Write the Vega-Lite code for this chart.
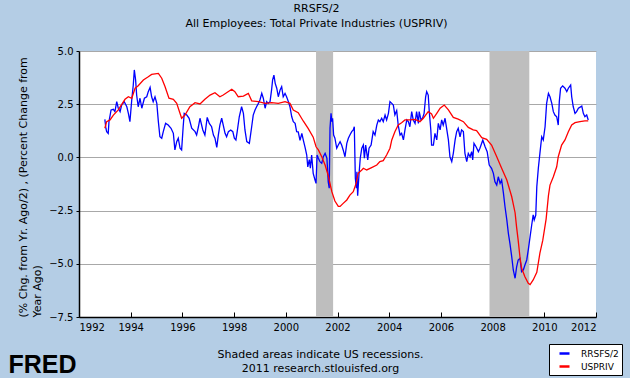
{
  "$schema": "https://vega.github.io/schema/vega-lite/v6.json",
  "autosize": "none",
  "width": 517,
  "height": 266,
  "padding": {"left": 79, "top": 51, "right": 34, "bottom": 61},
  "background": "#B4CDE5",
  "config": {
    "font": "DejaVu Sans",
    "view": {"fill": "white", "stroke": null}
  },
  "title": {
    "text": "RRSFS/2",
    "subtitle": "All Employees: Total Private Industries (USPRIV)",
    "anchor": "middle",
    "dx": -21,
    "offset": 17,
    "fontSize": 11,
    "fontWeight": "normal",
    "subtitleFontSize": 11,
    "subtitlePadding": 4,
    "color": "black",
    "subtitleColor": "black",
    "font": "DejaVu Sans",
    "subtitleFont": "DejaVu Sans"
  },
  "datasets": {
    "rec": [
      {"start": 2001.17, "end": 2001.83},
      {"start": 2007.88, "end": 2009.42}
    ],
    "series": [
      {"t": 1993.0, "v": 1.79, "s": "RRSFS/2"},
      {"t": 1993.04, "v": 1.37, "s": "RRSFS/2"},
      {"t": 1993.07, "v": 1.21, "s": "RRSFS/2"},
      {"t": 1993.13, "v": 1.13, "s": "RRSFS/2"},
      {"t": 1993.16, "v": 1.68, "s": "RRSFS/2"},
      {"t": 1993.24, "v": 2.23, "s": "RRSFS/2"},
      {"t": 1993.33, "v": 2.26, "s": "RRSFS/2"},
      {"t": 1993.39, "v": 2.15, "s": "RRSFS/2"},
      {"t": 1993.46, "v": 2.62, "s": "RRSFS/2"},
      {"t": 1993.52, "v": 2.31, "s": "RRSFS/2"},
      {"t": 1993.59, "v": 2.15, "s": "RRSFS/2"},
      {"t": 1993.65, "v": 2.46, "s": "RRSFS/2"},
      {"t": 1993.75, "v": 2.62, "s": "RRSFS/2"},
      {"t": 1993.85, "v": 2.38, "s": "RRSFS/2"},
      {"t": 1993.91, "v": 2.07, "s": "RRSFS/2"},
      {"t": 1993.97, "v": 1.68, "s": "RRSFS/2"},
      {"t": 1994.04, "v": 2.7, "s": "RRSFS/2"},
      {"t": 1994.1, "v": 3.4, "s": "RRSFS/2"},
      {"t": 1994.14, "v": 4.11, "s": "RRSFS/2"},
      {"t": 1994.19, "v": 3.64, "s": "RRSFS/2"},
      {"t": 1994.23, "v": 2.93, "s": "RRSFS/2"},
      {"t": 1994.29, "v": 2.38, "s": "RRSFS/2"},
      {"t": 1994.36, "v": 2.78, "s": "RRSFS/2"},
      {"t": 1994.43, "v": 2.31, "s": "RRSFS/2"},
      {"t": 1994.53, "v": 2.78, "s": "RRSFS/2"},
      {"t": 1994.62, "v": 2.85, "s": "RRSFS/2"},
      {"t": 1994.68, "v": 3.09, "s": "RRSFS/2"},
      {"t": 1994.75, "v": 3.29, "s": "RRSFS/2"},
      {"t": 1994.81, "v": 2.85, "s": "RRSFS/2"},
      {"t": 1994.87, "v": 2.62, "s": "RRSFS/2"},
      {"t": 1994.94, "v": 2.85, "s": "RRSFS/2"},
      {"t": 1995.01, "v": 2.54, "s": "RRSFS/2"},
      {"t": 1995.07, "v": 1.68, "s": "RRSFS/2"},
      {"t": 1995.13, "v": 0.97, "s": "RRSFS/2"},
      {"t": 1995.2, "v": 0.9, "s": "RRSFS/2"},
      {"t": 1995.26, "v": 1.21, "s": "RRSFS/2"},
      {"t": 1995.35, "v": 1.6, "s": "RRSFS/2"},
      {"t": 1995.45, "v": 1.52, "s": "RRSFS/2"},
      {"t": 1995.56, "v": 1.37, "s": "RRSFS/2"},
      {"t": 1995.65, "v": 1.13, "s": "RRSFS/2"},
      {"t": 1995.71, "v": 0.35, "s": "RRSFS/2"},
      {"t": 1995.78, "v": 0.74, "s": "RRSFS/2"},
      {"t": 1995.84, "v": 0.9, "s": "RRSFS/2"},
      {"t": 1995.91, "v": 0.43, "s": "RRSFS/2"},
      {"t": 1995.97, "v": 0.35, "s": "RRSFS/2"},
      {"t": 1996.03, "v": 1.44, "s": "RRSFS/2"},
      {"t": 1996.07, "v": 2.07, "s": "RRSFS/2"},
      {"t": 1996.17, "v": 1.99, "s": "RRSFS/2"},
      {"t": 1996.26, "v": 1.84, "s": "RRSFS/2"},
      {"t": 1996.36, "v": 1.37, "s": "RRSFS/2"},
      {"t": 1996.49, "v": 1.21, "s": "RRSFS/2"},
      {"t": 1996.55, "v": 1.05, "s": "RRSFS/2"},
      {"t": 1996.62, "v": 1.44, "s": "RRSFS/2"},
      {"t": 1996.68, "v": 1.84, "s": "RRSFS/2"},
      {"t": 1996.79, "v": 1.29, "s": "RRSFS/2"},
      {"t": 1996.87, "v": 1.05, "s": "RRSFS/2"},
      {"t": 1996.96, "v": 1.88, "s": "RRSFS/2"},
      {"t": 1997.04, "v": 1.6, "s": "RRSFS/2"},
      {"t": 1997.13, "v": 1.44, "s": "RRSFS/2"},
      {"t": 1997.2, "v": 1.05, "s": "RRSFS/2"},
      {"t": 1997.26, "v": 0.9, "s": "RRSFS/2"},
      {"t": 1997.33, "v": 0.47, "s": "RRSFS/2"},
      {"t": 1997.39, "v": 1.05, "s": "RRSFS/2"},
      {"t": 1997.45, "v": 1.52, "s": "RRSFS/2"},
      {"t": 1997.52, "v": 1.84, "s": "RRSFS/2"},
      {"t": 1997.58, "v": 1.52, "s": "RRSFS/2"},
      {"t": 1997.65, "v": 1.13, "s": "RRSFS/2"},
      {"t": 1997.71, "v": 0.97, "s": "RRSFS/2"},
      {"t": 1997.78, "v": 1.21, "s": "RRSFS/2"},
      {"t": 1997.87, "v": 1.29, "s": "RRSFS/2"},
      {"t": 1997.95, "v": 1.21, "s": "RRSFS/2"},
      {"t": 1998.01, "v": 0.9, "s": "RRSFS/2"},
      {"t": 1998.07, "v": 0.82, "s": "RRSFS/2"},
      {"t": 1998.12, "v": 1.21, "s": "RRSFS/2"},
      {"t": 1998.2, "v": 1.91, "s": "RRSFS/2"},
      {"t": 1998.29, "v": 2.38, "s": "RRSFS/2"},
      {"t": 1998.36, "v": 2.07, "s": "RRSFS/2"},
      {"t": 1998.42, "v": 1.29, "s": "RRSFS/2"},
      {"t": 1998.49, "v": 0.74, "s": "RRSFS/2"},
      {"t": 1998.59, "v": 0.66, "s": "RRSFS/2"},
      {"t": 1998.68, "v": 1.44, "s": "RRSFS/2"},
      {"t": 1998.74, "v": 1.99, "s": "RRSFS/2"},
      {"t": 1998.81, "v": 2.23, "s": "RRSFS/2"},
      {"t": 1998.87, "v": 2.38, "s": "RRSFS/2"},
      {"t": 1998.94, "v": 2.54, "s": "RRSFS/2"},
      {"t": 1999.0, "v": 2.7, "s": "RRSFS/2"},
      {"t": 1999.07, "v": 3.01, "s": "RRSFS/2"},
      {"t": 1999.13, "v": 2.78, "s": "RRSFS/2"},
      {"t": 1999.2, "v": 2.31, "s": "RRSFS/2"},
      {"t": 1999.26, "v": 2.62, "s": "RRSFS/2"},
      {"t": 1999.32, "v": 2.54, "s": "RRSFS/2"},
      {"t": 1999.39, "v": 2.62, "s": "RRSFS/2"},
      {"t": 1999.45, "v": 3.17, "s": "RRSFS/2"},
      {"t": 1999.49, "v": 3.64, "s": "RRSFS/2"},
      {"t": 1999.54, "v": 3.87, "s": "RRSFS/2"},
      {"t": 1999.59, "v": 3.48, "s": "RRSFS/2"},
      {"t": 1999.65, "v": 3.25, "s": "RRSFS/2"},
      {"t": 1999.71, "v": 2.85, "s": "RRSFS/2"},
      {"t": 1999.78, "v": 3.17, "s": "RRSFS/2"},
      {"t": 1999.84, "v": 3.32, "s": "RRSFS/2"},
      {"t": 1999.9, "v": 2.85, "s": "RRSFS/2"},
      {"t": 1999.97, "v": 3.01, "s": "RRSFS/2"},
      {"t": 2000.03, "v": 2.85, "s": "RRSFS/2"},
      {"t": 2000.1, "v": 2.62, "s": "RRSFS/2"},
      {"t": 2000.16, "v": 2.38, "s": "RRSFS/2"},
      {"t": 2000.23, "v": 1.91, "s": "RRSFS/2"},
      {"t": 2000.29, "v": 1.68, "s": "RRSFS/2"},
      {"t": 2000.36, "v": 1.6, "s": "RRSFS/2"},
      {"t": 2000.42, "v": 1.21, "s": "RRSFS/2"},
      {"t": 2000.48, "v": 1.2, "s": "RRSFS/2"},
      {"t": 2000.55, "v": 0.8, "s": "RRSFS/2"},
      {"t": 2000.62, "v": 1.13, "s": "RRSFS/2"},
      {"t": 2000.68, "v": 0.8, "s": "RRSFS/2"},
      {"t": 2000.75, "v": 0.45, "s": "RRSFS/2"},
      {"t": 2000.81, "v": 0.11, "s": "RRSFS/2"},
      {"t": 2000.85, "v": -0.45, "s": "RRSFS/2"},
      {"t": 2000.91, "v": -0.1, "s": "RRSFS/2"},
      {"t": 2000.95, "v": -0.51, "s": "RRSFS/2"},
      {"t": 2001.0, "v": 0.11, "s": "RRSFS/2"},
      {"t": 2001.06, "v": -0.75, "s": "RRSFS/2"},
      {"t": 2001.13, "v": -1.06, "s": "RRSFS/2"},
      {"t": 2001.17, "v": -1.22, "s": "RRSFS/2"},
      {"t": 2001.21, "v": 0.11, "s": "RRSFS/2"},
      {"t": 2001.26, "v": -0.04, "s": "RRSFS/2"},
      {"t": 2001.32, "v": -0.2, "s": "RRSFS/2"},
      {"t": 2001.39, "v": -0.28, "s": "RRSFS/2"},
      {"t": 2001.45, "v": 0.03, "s": "RRSFS/2"},
      {"t": 2001.52, "v": 0.19, "s": "RRSFS/2"},
      {"t": 2001.59, "v": -0.04, "s": "RRSFS/2"},
      {"t": 2001.62, "v": -0.67, "s": "RRSFS/2"},
      {"t": 2001.64, "v": -1.14, "s": "RRSFS/2"},
      {"t": 2001.68, "v": -1.45, "s": "RRSFS/2"},
      {"t": 2001.71, "v": 1.37, "s": "RRSFS/2"},
      {"t": 2001.75, "v": 2.07, "s": "RRSFS/2"},
      {"t": 2001.78, "v": 1.68, "s": "RRSFS/2"},
      {"t": 2001.81, "v": 1.84, "s": "RRSFS/2"},
      {"t": 2001.85, "v": 1.05, "s": "RRSFS/2"},
      {"t": 2001.9, "v": 0.9, "s": "RRSFS/2"},
      {"t": 2001.97, "v": 0.43, "s": "RRSFS/2"},
      {"t": 2002.03, "v": 0.58, "s": "RRSFS/2"},
      {"t": 2002.1, "v": 0.74, "s": "RRSFS/2"},
      {"t": 2002.16, "v": 0.58, "s": "RRSFS/2"},
      {"t": 2002.22, "v": 0.35, "s": "RRSFS/2"},
      {"t": 2002.29, "v": 0.03, "s": "RRSFS/2"},
      {"t": 2002.36, "v": 0.66, "s": "RRSFS/2"},
      {"t": 2002.42, "v": 0.9, "s": "RRSFS/2"},
      {"t": 2002.48, "v": 1.05, "s": "RRSFS/2"},
      {"t": 2002.55, "v": 1.21, "s": "RRSFS/2"},
      {"t": 2002.61, "v": 1.29, "s": "RRSFS/2"},
      {"t": 2002.65, "v": 1.44, "s": "RRSFS/2"},
      {"t": 2002.69, "v": -0.98, "s": "RRSFS/2"},
      {"t": 2002.73, "v": -1.45, "s": "RRSFS/2"},
      {"t": 2002.75, "v": -0.67, "s": "RRSFS/2"},
      {"t": 2002.78, "v": -1.8, "s": "RRSFS/2"},
      {"t": 2002.83, "v": -0.83, "s": "RRSFS/2"},
      {"t": 2002.88, "v": -0.04, "s": "RRSFS/2"},
      {"t": 2002.94, "v": 0.43, "s": "RRSFS/2"},
      {"t": 2003.0, "v": 0.58, "s": "RRSFS/2"},
      {"t": 2003.04, "v": -0.04, "s": "RRSFS/2"},
      {"t": 2003.09, "v": 0.58, "s": "RRSFS/2"},
      {"t": 2003.17, "v": -0.12, "s": "RRSFS/2"},
      {"t": 2003.22, "v": 0.43, "s": "RRSFS/2"},
      {"t": 2003.3, "v": 0.58, "s": "RRSFS/2"},
      {"t": 2003.38, "v": 1.21, "s": "RRSFS/2"},
      {"t": 2003.45, "v": 1.05, "s": "RRSFS/2"},
      {"t": 2003.52, "v": 1.52, "s": "RRSFS/2"},
      {"t": 2003.58, "v": 1.76, "s": "RRSFS/2"},
      {"t": 2003.64, "v": 1.68, "s": "RRSFS/2"},
      {"t": 2003.71, "v": 1.84, "s": "RRSFS/2"},
      {"t": 2003.77, "v": 1.68, "s": "RRSFS/2"},
      {"t": 2003.84, "v": 1.99, "s": "RRSFS/2"},
      {"t": 2003.9, "v": 1.76, "s": "RRSFS/2"},
      {"t": 2003.97, "v": 2.07, "s": "RRSFS/2"},
      {"t": 2004.03, "v": 2.62, "s": "RRSFS/2"},
      {"t": 2004.1, "v": 2.54, "s": "RRSFS/2"},
      {"t": 2004.16, "v": 2.46, "s": "RRSFS/2"},
      {"t": 2004.22, "v": 2.0, "s": "RRSFS/2"},
      {"t": 2004.29, "v": 2.2, "s": "RRSFS/2"},
      {"t": 2004.35, "v": 1.5, "s": "RRSFS/2"},
      {"t": 2004.42, "v": 1.05, "s": "RRSFS/2"},
      {"t": 2004.48, "v": 1.13, "s": "RRSFS/2"},
      {"t": 2004.55, "v": 0.82, "s": "RRSFS/2"},
      {"t": 2004.61, "v": 1.29, "s": "RRSFS/2"},
      {"t": 2004.68, "v": 1.76, "s": "RRSFS/2"},
      {"t": 2004.74, "v": 1.68, "s": "RRSFS/2"},
      {"t": 2004.8, "v": 1.44, "s": "RRSFS/2"},
      {"t": 2004.87, "v": 2.15, "s": "RRSFS/2"},
      {"t": 2004.93, "v": 1.76, "s": "RRSFS/2"},
      {"t": 2005.0, "v": 1.6, "s": "RRSFS/2"},
      {"t": 2005.06, "v": 2.15, "s": "RRSFS/2"},
      {"t": 2005.13, "v": 1.6, "s": "RRSFS/2"},
      {"t": 2005.16, "v": 2.15, "s": "RRSFS/2"},
      {"t": 2005.23, "v": 1.76, "s": "RRSFS/2"},
      {"t": 2005.29, "v": 1.84, "s": "RRSFS/2"},
      {"t": 2005.35, "v": 2.07, "s": "RRSFS/2"},
      {"t": 2005.41, "v": 2.85, "s": "RRSFS/2"},
      {"t": 2005.45, "v": 3.09, "s": "RRSFS/2"},
      {"t": 2005.51, "v": 2.93, "s": "RRSFS/2"},
      {"t": 2005.55, "v": 2.15, "s": "RRSFS/2"},
      {"t": 2005.61, "v": 1.29, "s": "RRSFS/2"},
      {"t": 2005.64, "v": 0.58, "s": "RRSFS/2"},
      {"t": 2005.71, "v": 0.58, "s": "RRSFS/2"},
      {"t": 2005.77, "v": 1.13, "s": "RRSFS/2"},
      {"t": 2005.84, "v": 0.82, "s": "RRSFS/2"},
      {"t": 2005.9, "v": 1.6, "s": "RRSFS/2"},
      {"t": 2005.97, "v": 1.29, "s": "RRSFS/2"},
      {"t": 2006.03, "v": 1.76, "s": "RRSFS/2"},
      {"t": 2006.09, "v": 1.52, "s": "RRSFS/2"},
      {"t": 2006.16, "v": 1.84, "s": "RRSFS/2"},
      {"t": 2006.23, "v": 1.29, "s": "RRSFS/2"},
      {"t": 2006.29, "v": 0.82, "s": "RRSFS/2"},
      {"t": 2006.35, "v": 0.03, "s": "RRSFS/2"},
      {"t": 2006.42, "v": -0.2, "s": "RRSFS/2"},
      {"t": 2006.48, "v": 0.19, "s": "RRSFS/2"},
      {"t": 2006.55, "v": 0.82, "s": "RRSFS/2"},
      {"t": 2006.61, "v": 1.21, "s": "RRSFS/2"},
      {"t": 2006.67, "v": 1.37, "s": "RRSFS/2"},
      {"t": 2006.74, "v": 0.97, "s": "RRSFS/2"},
      {"t": 2006.8, "v": 1.29, "s": "RRSFS/2"},
      {"t": 2006.87, "v": 1.21, "s": "RRSFS/2"},
      {"t": 2006.93, "v": 0.19, "s": "RRSFS/2"},
      {"t": 2007.0, "v": -0.2, "s": "RRSFS/2"},
      {"t": 2007.06, "v": 0.19, "s": "RRSFS/2"},
      {"t": 2007.13, "v": 0.03, "s": "RRSFS/2"},
      {"t": 2007.19, "v": 0.27, "s": "RRSFS/2"},
      {"t": 2007.23, "v": -0.12, "s": "RRSFS/2"},
      {"t": 2007.28, "v": 0.66, "s": "RRSFS/2"},
      {"t": 2007.36, "v": 0.5, "s": "RRSFS/2"},
      {"t": 2007.45, "v": 0.27, "s": "RRSFS/2"},
      {"t": 2007.51, "v": 0.43, "s": "RRSFS/2"},
      {"t": 2007.62, "v": 0.82, "s": "RRSFS/2"},
      {"t": 2007.71, "v": 0.5, "s": "RRSFS/2"},
      {"t": 2007.79, "v": 0.27, "s": "RRSFS/2"},
      {"t": 2007.87, "v": -0.36, "s": "RRSFS/2"},
      {"t": 2007.96, "v": -0.51, "s": "RRSFS/2"},
      {"t": 2008.03, "v": -0.75, "s": "RRSFS/2"},
      {"t": 2008.09, "v": -1.14, "s": "RRSFS/2"},
      {"t": 2008.16, "v": -1.3, "s": "RRSFS/2"},
      {"t": 2008.22, "v": -0.91, "s": "RRSFS/2"},
      {"t": 2008.29, "v": -1.22, "s": "RRSFS/2"},
      {"t": 2008.35, "v": -1.06, "s": "RRSFS/2"},
      {"t": 2008.42, "v": -1.69, "s": "RRSFS/2"},
      {"t": 2008.48, "v": -2.32, "s": "RRSFS/2"},
      {"t": 2008.55, "v": -2.94, "s": "RRSFS/2"},
      {"t": 2008.61, "v": -3.57, "s": "RRSFS/2"},
      {"t": 2008.67, "v": -4.04, "s": "RRSFS/2"},
      {"t": 2008.74, "v": -4.67, "s": "RRSFS/2"},
      {"t": 2008.8, "v": -5.29, "s": "RRSFS/2"},
      {"t": 2008.87, "v": -5.68, "s": "RRSFS/2"},
      {"t": 2008.93, "v": -5.14, "s": "RRSFS/2"},
      {"t": 2008.99, "v": -4.82, "s": "RRSFS/2"},
      {"t": 2009.06, "v": -4.74, "s": "RRSFS/2"},
      {"t": 2009.12, "v": -5.37, "s": "RRSFS/2"},
      {"t": 2009.19, "v": -5.29, "s": "RRSFS/2"},
      {"t": 2009.25, "v": -5.06, "s": "RRSFS/2"},
      {"t": 2009.32, "v": -4.82, "s": "RRSFS/2"},
      {"t": 2009.38, "v": -4.35, "s": "RRSFS/2"},
      {"t": 2009.45, "v": -3.73, "s": "RRSFS/2"},
      {"t": 2009.51, "v": -3.2, "s": "RRSFS/2"},
      {"t": 2009.57, "v": -2.7, "s": "RRSFS/2"},
      {"t": 2009.61, "v": -2.94, "s": "RRSFS/2"},
      {"t": 2009.67, "v": -2.71, "s": "RRSFS/2"},
      {"t": 2009.71, "v": -1.38, "s": "RRSFS/2"},
      {"t": 2009.77, "v": -0.5, "s": "RRSFS/2"},
      {"t": 2009.83, "v": 0.19, "s": "RRSFS/2"},
      {"t": 2009.9, "v": 0.97, "s": "RRSFS/2"},
      {"t": 2009.96, "v": 0.82, "s": "RRSFS/2"},
      {"t": 2010.03, "v": 1.44, "s": "RRSFS/2"},
      {"t": 2010.09, "v": 2.54, "s": "RRSFS/2"},
      {"t": 2010.16, "v": 3.01, "s": "RRSFS/2"},
      {"t": 2010.22, "v": 2.85, "s": "RRSFS/2"},
      {"t": 2010.29, "v": 2.54, "s": "RRSFS/2"},
      {"t": 2010.35, "v": 2.15, "s": "RRSFS/2"},
      {"t": 2010.41, "v": 1.99, "s": "RRSFS/2"},
      {"t": 2010.48, "v": 1.91, "s": "RRSFS/2"},
      {"t": 2010.54, "v": 1.52, "s": "RRSFS/2"},
      {"t": 2010.58, "v": 2.62, "s": "RRSFS/2"},
      {"t": 2010.63, "v": 3.25, "s": "RRSFS/2"},
      {"t": 2010.71, "v": 3.36, "s": "RRSFS/2"},
      {"t": 2010.8, "v": 3.25, "s": "RRSFS/2"},
      {"t": 2010.87, "v": 3.09, "s": "RRSFS/2"},
      {"t": 2010.93, "v": 3.25, "s": "RRSFS/2"},
      {"t": 2011.02, "v": 3.4, "s": "RRSFS/2"},
      {"t": 2011.06, "v": 2.85, "s": "RRSFS/2"},
      {"t": 2011.12, "v": 2.38, "s": "RRSFS/2"},
      {"t": 2011.19, "v": 2.07, "s": "RRSFS/2"},
      {"t": 2011.25, "v": 2.15, "s": "RRSFS/2"},
      {"t": 2011.32, "v": 2.31, "s": "RRSFS/2"},
      {"t": 2011.45, "v": 2.41, "s": "RRSFS/2"},
      {"t": 2011.51, "v": 2.07, "s": "RRSFS/2"},
      {"t": 2011.57, "v": 1.91, "s": "RRSFS/2"},
      {"t": 2011.64, "v": 1.99, "s": "RRSFS/2"},
      {"t": 2011.7, "v": 1.76, "s": "RRSFS/2"},
      {"t": 1993.0, "v": 1.37, "s": "USPRIV"},
      {"t": 1993.07, "v": 1.68, "s": "USPRIV"},
      {"t": 1993.2, "v": 1.76, "s": "USPRIV"},
      {"t": 1993.33, "v": 1.99, "s": "USPRIV"},
      {"t": 1993.52, "v": 2.23, "s": "USPRIV"},
      {"t": 1993.78, "v": 2.73, "s": "USPRIV"},
      {"t": 1993.91, "v": 2.85, "s": "USPRIV"},
      {"t": 1994.04, "v": 2.78, "s": "USPRIV"},
      {"t": 1994.17, "v": 3.25, "s": "USPRIV"},
      {"t": 1994.29, "v": 3.37, "s": "USPRIV"},
      {"t": 1994.49, "v": 3.64, "s": "USPRIV"},
      {"t": 1994.68, "v": 3.79, "s": "USPRIV"},
      {"t": 1994.81, "v": 3.9, "s": "USPRIV"},
      {"t": 1995.07, "v": 3.95, "s": "USPRIV"},
      {"t": 1995.2, "v": 3.72, "s": "USPRIV"},
      {"t": 1995.33, "v": 3.32, "s": "USPRIV"},
      {"t": 1995.48, "v": 2.78, "s": "USPRIV"},
      {"t": 1995.65, "v": 2.73, "s": "USPRIV"},
      {"t": 1995.78, "v": 2.54, "s": "USPRIV"},
      {"t": 1995.97, "v": 1.84, "s": "USPRIV"},
      {"t": 1996.1, "v": 1.99, "s": "USPRIV"},
      {"t": 1996.29, "v": 2.38, "s": "USPRIV"},
      {"t": 1996.49, "v": 2.57, "s": "USPRIV"},
      {"t": 1996.68, "v": 2.51, "s": "USPRIV"},
      {"t": 1996.87, "v": 2.73, "s": "USPRIV"},
      {"t": 1997.07, "v": 2.93, "s": "USPRIV"},
      {"t": 1997.26, "v": 3.04, "s": "USPRIV"},
      {"t": 1997.45, "v": 2.85, "s": "USPRIV"},
      {"t": 1997.58, "v": 2.93, "s": "USPRIV"},
      {"t": 1997.91, "v": 3.2, "s": "USPRIV"},
      {"t": 1998.03, "v": 3.09, "s": "USPRIV"},
      {"t": 1998.16, "v": 2.85, "s": "USPRIV"},
      {"t": 1998.36, "v": 2.88, "s": "USPRIV"},
      {"t": 1998.55, "v": 3.01, "s": "USPRIV"},
      {"t": 1998.68, "v": 2.66, "s": "USPRIV"},
      {"t": 1998.94, "v": 2.62, "s": "USPRIV"},
      {"t": 1999.2, "v": 2.54, "s": "USPRIV"},
      {"t": 1999.45, "v": 2.57, "s": "USPRIV"},
      {"t": 1999.71, "v": 2.54, "s": "USPRIV"},
      {"t": 1999.97, "v": 2.62, "s": "USPRIV"},
      {"t": 2000.16, "v": 2.54, "s": "USPRIV"},
      {"t": 2000.29, "v": 2.23, "s": "USPRIV"},
      {"t": 2000.48, "v": 2.1, "s": "USPRIV"},
      {"t": 2000.68, "v": 1.7, "s": "USPRIV"},
      {"t": 2000.87, "v": 1.35, "s": "USPRIV"},
      {"t": 2001.06, "v": 0.95, "s": "USPRIV"},
      {"t": 2001.17, "v": 0.5, "s": "USPRIV"},
      {"t": 2001.26, "v": 0.35, "s": "USPRIV"},
      {"t": 2001.39, "v": 0.03, "s": "USPRIV"},
      {"t": 2001.52, "v": -0.36, "s": "USPRIV"},
      {"t": 2001.64, "v": -0.85, "s": "USPRIV"},
      {"t": 2001.78, "v": -1.61, "s": "USPRIV"},
      {"t": 2001.9, "v": -2.05, "s": "USPRIV"},
      {"t": 2002.03, "v": -2.3, "s": "USPRIV"},
      {"t": 2002.1, "v": -2.3, "s": "USPRIV"},
      {"t": 2002.22, "v": -2.16, "s": "USPRIV"},
      {"t": 2002.36, "v": -2.0, "s": "USPRIV"},
      {"t": 2002.48, "v": -1.77, "s": "USPRIV"},
      {"t": 2002.61, "v": -1.61, "s": "USPRIV"},
      {"t": 2002.72, "v": -1.22, "s": "USPRIV"},
      {"t": 2002.8, "v": -0.75, "s": "USPRIV"},
      {"t": 2002.94, "v": -0.59, "s": "USPRIV"},
      {"t": 2003.0, "v": -0.51, "s": "USPRIV"},
      {"t": 2003.13, "v": -0.59, "s": "USPRIV"},
      {"t": 2003.32, "v": -0.48, "s": "USPRIV"},
      {"t": 2003.52, "v": -0.36, "s": "USPRIV"},
      {"t": 2003.64, "v": -0.2, "s": "USPRIV"},
      {"t": 2003.77, "v": -0.15, "s": "USPRIV"},
      {"t": 2003.9, "v": 0.11, "s": "USPRIV"},
      {"t": 2004.03, "v": 0.43, "s": "USPRIV"},
      {"t": 2004.1, "v": 0.82, "s": "USPRIV"},
      {"t": 2004.22, "v": 1.21, "s": "USPRIV"},
      {"t": 2004.35, "v": 1.52, "s": "USPRIV"},
      {"t": 2004.48, "v": 1.63, "s": "USPRIV"},
      {"t": 2004.61, "v": 1.76, "s": "USPRIV"},
      {"t": 2004.8, "v": 1.76, "s": "USPRIV"},
      {"t": 2005.0, "v": 1.79, "s": "USPRIV"},
      {"t": 2005.19, "v": 1.68, "s": "USPRIV"},
      {"t": 2005.32, "v": 1.84, "s": "USPRIV"},
      {"t": 2005.51, "v": 2.15, "s": "USPRIV"},
      {"t": 2005.64, "v": 2.04, "s": "USPRIV"},
      {"t": 2005.71, "v": 1.84, "s": "USPRIV"},
      {"t": 2005.84, "v": 2.07, "s": "USPRIV"},
      {"t": 2005.97, "v": 2.31, "s": "USPRIV"},
      {"t": 2006.13, "v": 2.46, "s": "USPRIV"},
      {"t": 2006.29, "v": 2.23, "s": "USPRIV"},
      {"t": 2006.48, "v": 1.88, "s": "USPRIV"},
      {"t": 2006.67, "v": 1.8, "s": "USPRIV"},
      {"t": 2006.87, "v": 1.68, "s": "USPRIV"},
      {"t": 2007.06, "v": 1.41, "s": "USPRIV"},
      {"t": 2007.25, "v": 1.29, "s": "USPRIV"},
      {"t": 2007.38, "v": 1.26, "s": "USPRIV"},
      {"t": 2007.58, "v": 0.93, "s": "USPRIV"},
      {"t": 2007.77, "v": 0.85, "s": "USPRIV"},
      {"t": 2007.96, "v": 0.58, "s": "USPRIV"},
      {"t": 2008.16, "v": 0.03, "s": "USPRIV"},
      {"t": 2008.35, "v": -0.51, "s": "USPRIV"},
      {"t": 2008.55, "v": -1.06, "s": "USPRIV"},
      {"t": 2008.74, "v": -1.85, "s": "USPRIV"},
      {"t": 2008.87, "v": -2.6, "s": "USPRIV"},
      {"t": 2008.93, "v": -3.3, "s": "USPRIV"},
      {"t": 2008.99, "v": -3.9, "s": "USPRIV"},
      {"t": 2009.06, "v": -4.7, "s": "USPRIV"},
      {"t": 2009.12, "v": -5.2, "s": "USPRIV"},
      {"t": 2009.25, "v": -5.61, "s": "USPRIV"},
      {"t": 2009.38, "v": -5.92, "s": "USPRIV"},
      {"t": 2009.45, "v": -5.98, "s": "USPRIV"},
      {"t": 2009.57, "v": -5.76, "s": "USPRIV"},
      {"t": 2009.71, "v": -5.4, "s": "USPRIV"},
      {"t": 2009.83, "v": -4.5, "s": "USPRIV"},
      {"t": 2009.94, "v": -3.9, "s": "USPRIV"},
      {"t": 2010.07, "v": -2.9, "s": "USPRIV"},
      {"t": 2010.16, "v": -1.8, "s": "USPRIV"},
      {"t": 2010.22, "v": -1.3, "s": "USPRIV"},
      {"t": 2010.35, "v": -0.91, "s": "USPRIV"},
      {"t": 2010.48, "v": -0.44, "s": "USPRIV"},
      {"t": 2010.54, "v": 0.03, "s": "USPRIV"},
      {"t": 2010.67, "v": 0.58, "s": "USPRIV"},
      {"t": 2010.8, "v": 0.82, "s": "USPRIV"},
      {"t": 2010.93, "v": 1.21, "s": "USPRIV"},
      {"t": 2011.06, "v": 1.52, "s": "USPRIV"},
      {"t": 2011.19, "v": 1.63, "s": "USPRIV"},
      {"t": 2011.38, "v": 1.68, "s": "USPRIV"},
      {"t": 2011.57, "v": 1.72, "s": "USPRIV"},
      {"t": 2011.7, "v": 1.72, "s": "USPRIV"}
    ]
  },
  "layer": [
    {
      "data": {"name": "rec"},
      "mark": {"type": "rect", "color": "#BEBEBE"},
      "encoding": {
        "x": {
          "field": "start", "type": "quantitative",
          "scale": {"domain": [1992, 2012], "nice": false, "zero": false},
          "axis": {
            "orient": "bottom",
            "values": [1992, 1994, 1996, 1998, 2000, 2002, 2004, 2006, 2008, 2010, 2012],
            "format": "d",
            "grid": false,
            "domainColor": "black",
            "domainWidth": 1.5,
            "tickColor": "black",
            "tickSize": -5,
            "labelPadding": 10,
            "labelFont": "DejaVu Sans",
            "labelFontSize": 10,
            "labelColor": "black",
            "title": ["Shaded areas indicate US recessions.", "2011 research.stlouisfed.org"],
            "titleFont": "DejaVu Sans",
            "titleFontSize": 11,
            "titleFontWeight": "normal",
            "titleColor": "black",
            "titleX": 241,
            "titlePadding": 16,
            "titleLineHeight": 14,
            "offset": 0
          }
        },
        "x2": {"field": "end"}
      }
    },
    {
      "data": {"name": "series"},
      "mark": {"type": "line", "strokeWidth": 1.3, "interpolate": "linear"},
      "encoding": {
        "x": {
          "field": "t", "type": "quantitative",
          "scale": {"domain": [1992, 2012], "nice": false, "zero": false},
          "axis": {
            "orient": "bottom",
            "title": "FRED",
            "titleFont": "Liberation Sans",
            "titleFontSize": 25,
            "titleFontWeight": "bold",
            "titleColor": "black",
            "titleX": -37,
            "titleY": 55,
            "titleAlign": "center",
            "titleBaseline": "alphabetic",
            "domain": false, "ticks": false, "labels": false, "grid": false
          }
        },
        "y": {
          "field": "v", "type": "quantitative",
          "scale": {"domain": [-7.5, 5], "nice": false, "zero": false},
          "axis": {
            "values": [-7.5, -5, -2.5, 0, 2.5, 5],
            "format": ".1f",
            "grid": true,
            "gridColor": "#A8A8A8",
            "gridWidth": 1.2,
            "gridOpacity": 1,
            "domainColor": "black",
            "domainWidth": 1.5,
            "tickColor": "black",
            "tickSize": 3,
            "labelPadding": 3,
            "labelFont": "DejaVu Sans",
            "labelFontSize": 10,
            "labelColor": "black",
            "title": ["(% Chg. from Yr. Ago/2) , (Percent Change from", "Year Ago)"],
            "titleFont": "DejaVu Sans",
            "titleFontSize": 11,
            "titleFontWeight": "normal",
            "titleColor": "black",
            "titleAnchor": "start",
            "titleAlign": "left",
            "titlePadding": 6,
            "titleLineHeight": 14
          }
        },
        "color": {
          "field": "s", "type": "nominal",
          "scale": {"domain": ["RRSFS/2", "USPRIV"], "range": ["#0000FF", "#FF0000"]},
          "legend": {
            "title": null,
            "orient": "none",
            "legendX": 470,
            "legendY": 293,
            "fillColor": "white",
            "strokeColor": "black",
            "padding": 3,
            "symbolType": "stroke",
            "symbolSize": 100,
            "symbolStrokeWidth": 2.5,
            "labelFont": "DejaVu Sans",
            "labelFontSize": 9,
            "labelColor": "black",
            "rowPadding": 1,
            "labelOffset": 10,
            "symbolOffset": 6,
            "labelLimit": 60
          }
        }
      }
    }
  ],
  "resolve": {"axis": {"x": "independent"}}
}
